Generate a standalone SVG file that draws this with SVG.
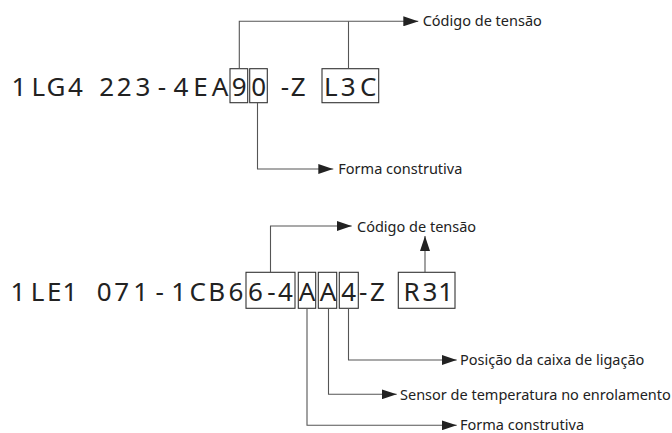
<svg xmlns="http://www.w3.org/2000/svg" width="672" height="433" viewBox="0 0 672 433">
<style>
.code{font-family:"Noto Sans","Open Sans",sans-serif;font-size:26px;fill:#222;text-anchor:middle}
.lbl{font-family:"Noto Sans","Open Sans",sans-serif;font-size:14.5px;fill:#222}
.box{fill:none;stroke:#333;stroke-width:1.1}
.con{fill:none;stroke:#555;stroke-width:1.1}
</style>
<defs>
<marker id="arr" markerUnits="userSpaceOnUse" markerWidth="15" markerHeight="10" refX="15" refY="5" orient="auto" viewBox="0 0 15 10">
<path d="M0,0 L15,5 L0,10 Z" fill="#222"/>
</marker>
</defs>
<rect width="672" height="433" fill="#fff"/>
<g id="code1">
<text class="code" x="19 38.3 56 75.5 106.7 124.3 143 162 181 200.5 220 239.2 258.7 285 298.3 330.8 348.3 368.3" y="95.5">1LG4223-4EA90-ZL3C</text>
<rect class="box" x="230" y="68.7" width="17.7" height="34"/>
<rect class="box" x="249.7" y="68.7" width="17.6" height="34"/>
<rect class="box" x="322" y="68.7" width="56.7" height="34"/>
</g>
<g id="code2">
<text class="code" x="18 37.5 54.2 70 104.2 121.7 140.7 159.7 178.7 197.7 216.7 236 255.5 271.5 285.5 307 328 348.7 363.3 377.5 411.7 430 445.8" y="301">1LE1071-1CB66-4AA4-ZR31</text>
<rect class="box" x="246" y="272.3" width="49" height="36"/>
<rect class="box" x="298.3" y="272.3" width="17.4" height="36"/>
<rect class="box" x="318.3" y="272.3" width="18.4" height="36"/>
<rect class="box" x="339.3" y="272.3" width="19" height="36"/>
<rect class="box" x="398.3" y="272.3" width="56.7" height="36"/>
</g>
<g id="label-tensao1"><text class="lbl" x="422.7" y="26.3">Código de tensão</text></g>
<g id="label-forma1"><text class="lbl" x="338.3" y="174.2">Forma construtiva</text></g>
<g id="label-tensao2"><text class="lbl" x="357" y="231.5">Código de tensão</text></g>
<g id="label-posicao"><text class="lbl" x="460" y="365.2">Posição da caixa de ligação</text></g>
<g id="label-sensor"><text class="lbl" x="400" y="399.5">Sensor de temperatura no enrolamento</text></g>
<g id="label-forma2"><text class="lbl" x="460" y="429.5">Forma construtiva</text></g>
<g id="connectors">
<path class="con" d="M239.3,68.7 V21.3 H418.3" marker-end="url(#arr)"/>
<path class="con" d="M348.5,68.7 V21.3"/>
<path class="con" d="M257.5,102.7 V169 H333.3" marker-end="url(#arr)"/>
<path class="con" d="M270.5,272.3 V226 H351.7" marker-end="url(#arr)"/>
<path class="con" d="M425,272.3 V236" marker-end="url(#arr)"/>
<path class="con" d="M348.5,308.3 V360 H456.7" marker-end="url(#arr)"/>
<path class="con" d="M328.5,308.3 V394.3 H396.7" marker-end="url(#arr)"/>
<path class="con" d="M307,308.3 V425.3 H456.7" marker-end="url(#arr)"/>
</g>
</svg>
